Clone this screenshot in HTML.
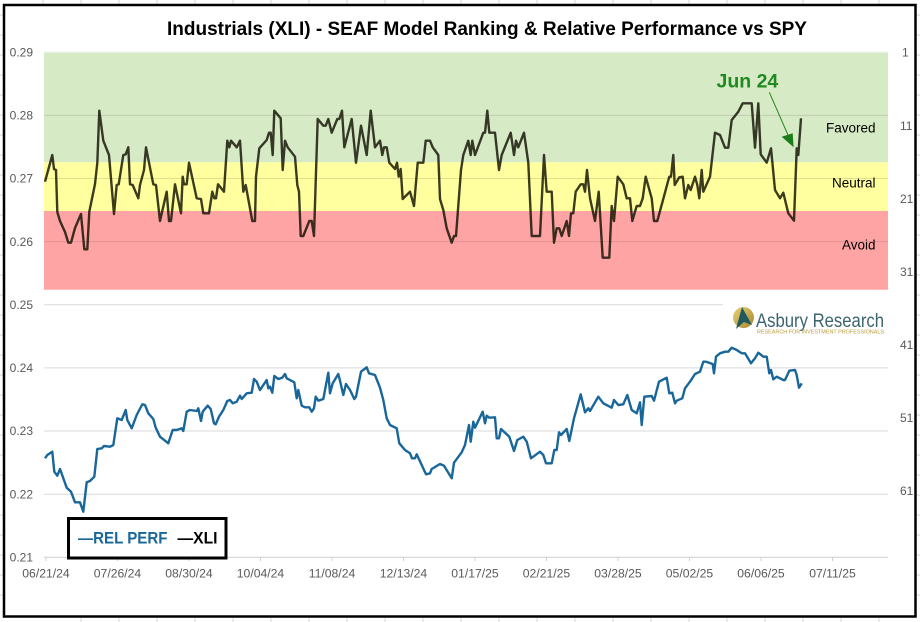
<!DOCTYPE html>
<html><head><meta charset="utf-8"><style>
html,body{margin:0;padding:0;background:#fff;}
svg{display:block;}
</style></head><body>
<svg width="920" height="622" viewBox="0 0 920 622" xmlns="http://www.w3.org/2000/svg" font-family="'Liberation Sans', sans-serif">
<rect width="920" height="622" fill="#fff"/>
<!-- spreadsheet grid outside frame -->
<g stroke="#d4d4d4" stroke-width="1">
<path d="M43 0V5M81 0V5M119 0V5M157 0V5M195 0V5M233 0V5M271 0V5M309 0V5M347 0V5M385 0V5M423 0V5M461 0V5M499 0V5M537 0V5M575 0V5M613 0V5M651 0V5M689 0V5M727 0V5M765 0V5M803 0V5M841 0V5M879 0V5"/>
<path d="M81 617V622M119 617V622M157 617V622M195 617V622M233 617V622M271 617V622M309 617V622M347 617V622M385 617V622M423 617V622M461 617V622M499 617V622M537 617V622M575 617V622M613 617V622M651 617V622M689 617V622M727 617V622M765 617V622M803 617V622M841 617V622M879 617V622"/>
<path d="M0 15H4M0 35H4M0 55H4M0 75H4M0 95H4M0 115H4M0 135H4M0 155H4M0 175H4M0 195H4M0 215H4M0 235H4M0 255H4M0 275H4M0 295H4M0 315H4M0 335H4M0 355H4M0 375H4M0 395H4M0 415H4M0 435H4M0 455H4M0 475H4M0 495H4M0 515H4M0 535H4M0 555H4M0 575H4M0 595H4"/>
<path d="M916 15H920M916 35H920M916 55H920M916 75H920M916 95H920M916 115H920M916 135H920M916 155H920M916 175H920M916 195H920M916 215H920M916 235H920M916 255H920M916 275H920M916 295H920M916 315H920M916 335H920M916 355H920M916 375H920M916 395H920M916 415H920M916 435H920M916 455H920M916 475H920M916 495H920M916 515H920M916 535H920M916 555H920M916 575H920M916 595H920"/>
</g>
<!-- frame -->
<rect x="4" y="5" width="911.5" height="611.5" fill="#fff" stroke="#000" stroke-width="2.5"/>

<!-- title -->
<text x="167" y="35" font-size="19.5" font-weight="bold" fill="#000" textLength="640" lengthAdjust="spacingAndGlyphs">Industrials (XLI) - SEAF Model Ranking &amp; Relative Performance vs SPY</text>

<!-- gridlines outside bands -->
<g stroke="#d9d9d9" stroke-width="1">
<path d="M44 52.3H888M44 304.8H888M44 367.9H888M44 431H888M44 494.2H888"/>
<path d="M44 557.3H888" stroke="#d0d0d0"/>
</g>
<!-- bands -->
<rect x="44" y="52.3" width="844" height="110" fill="#d7eac6"/>
<rect x="44" y="162.3" width="844" height="48.7" fill="#ffffa0"/>
<rect x="44" y="211" width="844" height="78.7" fill="#ffa4a4"/>
<g stroke="#000" stroke-opacity="0.12" stroke-width="1">
<path d="M44 115.4H888M44 178.5H888M44 241.6H888"/>
</g>
<path d="M44 52.3H888" stroke="#eef5e8" stroke-width="1"/>

<!-- x ticks -->
<g stroke="#d0d0d0" stroke-width="1">
<path d="M46 557V561M117.5 557V561M189 557V561M260.5 557V561M332 557V561M403.5 557V561M475 557V561M546.5 557V561M618 557V561M689.5 557V561M761 557V561M832.5 557V561"/>
</g>

<!-- left axis labels -->
<g font-size="12" fill="#595959" text-anchor="end">
<text x="33" y="56.5">0.29</text>
<text x="33" y="119.6">0.28</text>
<text x="33" y="182.7">0.27</text>
<text x="33" y="245.8">0.26</text>
<text x="33" y="309">0.25</text>
<text x="33" y="372.1">0.24</text>
<text x="33" y="435.2">0.23</text>
<text x="33" y="498.4">0.22</text>
<text x="33" y="561.5">0.21</text>
</g>
<!-- right axis labels -->
<g font-size="12" fill="#595959">
<text x="902" y="56.5">1</text>
<text x="900" y="130">11</text>
<text x="900" y="203">21</text>
<text x="900" y="276">31</text>
<text x="900" y="349">41</text>
<text x="900" y="422">51</text>
<text x="900" y="495">61</text>
</g>
<!-- x labels -->
<g font-size="12.2" fill="#595959" text-anchor="middle">
<text x="46" y="577.5">06/21/24</text>
<text x="117.5" y="577.5">07/26/24</text>
<text x="189" y="577.5">08/30/24</text>
<text x="260.5" y="577.5">10/04/24</text>
<text x="332" y="577.5">11/08/24</text>
<text x="403.5" y="577.5">12/13/24</text>
<text x="475" y="577.5">01/17/25</text>
<text x="546.5" y="577.5">02/21/25</text>
<text x="618" y="577.5">03/28/25</text>
<text x="689.5" y="577.5">05/02/25</text>
<text x="761" y="577.5">06/06/25</text>
<text x="832.5" y="577.5">07/11/25</text>
</g>

<!-- band labels -->
<g font-size="13.5" fill="#000" text-anchor="end">
<text x="875.5" y="132.7">Favored</text>
<text x="875.5" y="187.3">Neutral</text>
<text x="875.5" y="249.3">Avoid</text>
</g>

<!-- logo -->
<rect x="723" y="296" width="165" height="42" fill="#fff"/>
<defs>
<linearGradient id="gold" x1="0" y1="0" x2="1" y2="1">
<stop offset="0" stop-color="#e8d27a"/><stop offset="1" stop-color="#a8862a"/>
</linearGradient>
</defs>
<ellipse cx="743.5" cy="317.5" rx="10.5" ry="10.5" fill="url(#gold)"/>
<path d="M742 307 L736 329 L744 322 L752 325 Z" fill="#215a5e"/>
<text x="756" y="327" font-size="19.3" fill="#3b6470" textLength="128" lengthAdjust="spacingAndGlyphs">Asbury Research</text>
<text x="757" y="333.5" font-size="5" fill="#b89a3c" textLength="127" lengthAdjust="spacingAndGlyphs">RESEARCH FOR INVESTMENT PROFESSIONALS</text>

<!-- REL PERF line -->
<polyline fill="none" stroke="#19679a" stroke-width="2.4" stroke-linejoin="round" points="45,458.3 47.3,455 52.3,451.7 54.3,471.7 57.3,475.7 60,469 66.7,487.7 71,491.7 75,502.3 80,502.3 83.3,511.7 86.7,482.3 90,481 94.3,476.7 97.3,449 101.7,448.3 104,446 110,446.7 113.3,445 117.3,418.3 121.7,420 125.7,410 127.3,420 131.7,428.3 136.7,415 142.3,404.3 145,405 148.3,413.3 153.3,419 155.7,427.7 160,436.7 168.3,443.3 172.7,430 176.7,430 181.7,428.3 183.3,431 186.7,411.7 190,410 196.7,411 198.3,408.3 201,421 202.7,411.7 207.7,405.7 210.7,409 214,423.3 215.7,424.3 219,416.7 223.3,410 227.3,401 230,400 232.7,403.3 236.7,401.7 240,395.7 241.7,399 246.7,393.3 251.7,392.7 254,379 256.7,381.7 260,390 266.7,380 268.3,388.3 270,386.7 272.3,392.7 274.3,376 278.3,379 282.3,377.7 285,374 286.7,378.3 294.3,382.3 296.7,398.3 298.3,390 301.7,405.7 305,407.3 309.3,407.3 311.7,411.7 314,408.3 315.7,396.7 318.3,400.7 323.3,399 328.3,372.7 330,393.3 332.7,383.3 338.3,374 340,380.7 343.3,395 346,384 350,390 354.3,399 356,396.7 361,371.7 366.7,367.3 369,373.3 375,375 380,387.7 383.3,400 386.7,418.3 390,425 396.7,428.3 399.3,443.3 405,450 410,453.3 412,458.3 415,458.3 416.7,454.3 426,474.3 430,473.3 431.7,469 440,464 444,465.7 451.7,478.3 454,462.7 461.7,452.3 465,445 469,425 470.7,441.7 473.3,421.7 475,427.7 482.7,411.7 485,423.3 486.7,415.7 489.3,417.7 495,417.3 496.7,438.3 499,438.3 501,429 509.3,436.7 514,451 517.3,440 523.3,436.7 526.7,441.7 531,458.3 540,451.7 543.3,455 546,463.3 551.7,463.3 554.3,450 556.7,450 559,432.3 561,435 566.7,429 569.3,441 574,418.3 580.7,394.3 585,412.3 588.3,408.3 590,411 598.3,396.7 603.3,403.3 611.7,407.7 614,400 618.3,405 623.3,404.3 627.3,395 631.7,410 636.7,413.3 640,402.3 641.7,425 644.3,396.7 651.7,396 654,400.7 659,381.7 666.7,377.7 669.3,393.3 672.3,392.7 675,403.3 676.7,400.7 682.3,398.3 685,388.3 690,381.7 695,374 700,371.7 703.3,361.7 706,361.7 712.7,364 714,373.3 716,356.7 720,353.3 725,351.7 728.3,351.7 731.7,347.7 736.7,350 741.7,353.3 745,353.3 751,363.3 755,358.3 758.3,352.7 763.3,356.7 766.7,356.7 769.3,373.3 771,370 773.3,379.3 776.7,376.7 783.3,380 785,380 789.3,370.7 795,370 796.7,375 799,387.7 800.7,385 801.7,383.3"/>

<!-- XLI rank line -->
<polyline fill="none" stroke="#111100" stroke-opacity="0.82" stroke-width="2.4" stroke-linejoin="round" points="45,181.7 52.3,155 54,169 56,170 57.3,212 60,221 65,232 68.3,242.7 71,242.7 75,228 81,214 84.3,249.3 87.3,249.3 89.3,211.7 95,184 97.3,163 99.3,110.7 103.3,140.7 109,155 114,214 116.7,185 118.7,184.3 123.3,155 125.7,154.3 128.3,147.3 130,184.3 132.7,185 138.3,198.3 140,185 144,170 146,147.3 153.3,184.3 156,185 160,221 166.7,191.7 169,221 171,221 175,184.3 181,213.3 182.7,176.7 184,184.3 186.7,184.3 189,162.7 196.7,198.3 201,199 203.3,213.3 209,213.3 212.3,191.7 214.3,198.3 216,198.3 218,184.3 224,191.7 227.3,140.7 229.3,147.3 231,140.7 236.7,147.3 240,140.7 243.3,191.7 245.7,185 252.3,221 255,221 256,176.7 259.3,148.3 266.7,140 269,132.7 270.7,132.7 272.7,155 274.3,110.7 280.7,118.3 282.7,170 285,140.7 287.7,147.3 295,156.7 297.3,185 299,191.7 300.7,236 303.3,236 309.3,221 311.7,221 314,236 317.7,119 323.3,125.7 325.7,125.7 328.3,119 331.7,132.7 337.3,119 339.3,119 342,110.7 344.3,147.3 351.7,119 356,162.7 361,125.7 366.7,155 370.7,110.7 375,147.3 380,140.7 382.3,155 384,147.3 386.7,147.3 389.3,162.7 395,169 397,162.7 398.7,176.7 400.7,169 402.7,199 410,191.7 414,206 417.7,162.7 423.3,162.7 425.7,140.7 430,140.7 432.7,147.3 438.3,155 440,199 443.3,210 446.7,228.3 451.7,242.7 454,236 456,236 461,170 463.3,155 468.3,140.7 470.7,155 472.3,140.7 475,155 483.3,132.7 485,132.7 487.3,110.7 489.3,132.7 495,132.7 499,170 501.7,155 510.7,132.7 514,155 516,140.7 518.3,147.3 524,132.7 528.3,162.7 531.7,236 540,236 544,155 546.7,191.7 551.7,191.7 554,242.7 556.7,228.3 559.3,228.3 561.7,236 566.7,221 569,236 571,213.3 573.3,213.3 575.7,191.7 580.7,184.3 583.3,184.3 585,191.7 587,170 590,198.3 595,221 598.7,191.7 602.7,257.7 609.3,257.7 611.7,206 614,221 617.7,176.7 623.3,184.3 626.7,198.3 630,198.3 632.3,221 636.7,206 640,206 642.7,198.3 645.7,176.7 651.7,198.3 654,221 657.3,221 669.3,176.7 671,176.7 673.3,155 674.7,185 679.3,177.3 682.7,176.7 685,198.3 688.3,185 690.7,190 695,176.7 697.3,185 699.3,198.3 701.7,170 703.3,191.7 710,176.7 715,132.7 720,135 725,147.7 728.3,147.7 731.7,120 738.3,111.7 742.7,103.3 751.7,103.3 755,147.7 758.3,103.3 760.7,154.3 766.7,162.7 771,148.3 775,190 780,198.3 783.3,192.7 788.3,213.3 794,220.7 796.7,148.3 798.3,155 801,118.3"/>

<!-- Jun 24 annotation -->
<text x="716.5" y="87.5" font-size="19.5" font-weight="bold" fill="#1f8a1f">Jun 24</text>
<line x1="769.3" y1="92.3" x2="788" y2="135" stroke="#1f8a1f" stroke-width="1"/>
<polygon points="781.7,136.7 792.7,133.3 793.6,147.3" fill="#1a7d1a"/>

<!-- legend -->
<rect x="68.5" y="518.5" width="157.5" height="39.5" fill="#fff" stroke="#000" stroke-width="3"/>
<text x="78" y="543.5" font-size="17" font-weight="bold" fill="#19679a" textLength="89.5" lengthAdjust="spacingAndGlyphs">—REL PERF</text>
<text x="177.5" y="543.5" font-size="17" font-weight="bold" fill="#000" textLength="40" lengthAdjust="spacingAndGlyphs">—XLI</text>
</svg>
</body></html>
